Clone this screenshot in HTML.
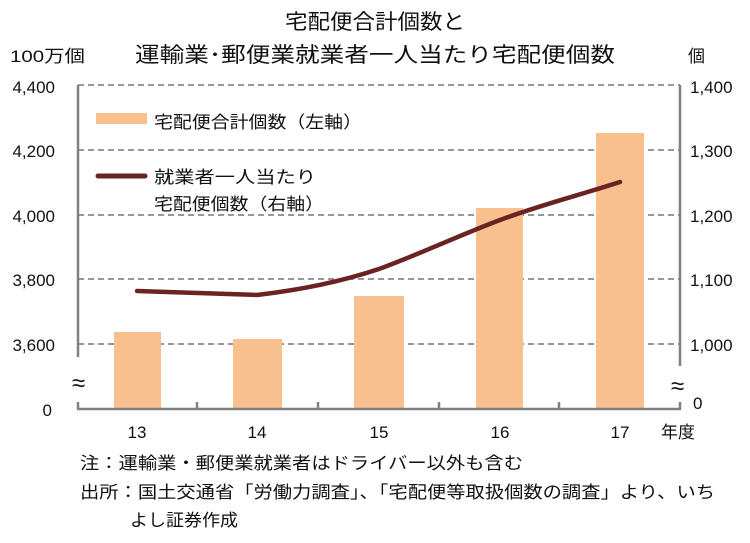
<!DOCTYPE html>
<html><head><meta charset="utf-8"><style>
body{margin:0;background:#fff;}
svg text{font-family:"Liberation Sans","Noto Sans CJK JP",sans-serif;fill:#111;}
</style></head><body>
<svg width="750" height="538" viewBox="0 0 750 538" xmlns="http://www.w3.org/2000/svg">
<text x="285" y="29" font-size="21" textLength="180" lengthAdjust="spacingAndGlyphs">宅配便合計個数と</text>
<text x="135" y="62" font-size="21" textLength="480" lengthAdjust="spacingAndGlyphs">運輸業･郵便業就業者一人当たり宅配便個数</text>
<text x="10" y="62" font-size="17" textLength="75" lengthAdjust="spacingAndGlyphs">100万個</text>
<text x="688" y="62" font-size="17">個</text>
<g stroke="#777" stroke-width="1.5" stroke-dasharray="6,4">
<line x1="78" y1="85" x2="680" y2="85"/>
<line x1="78" y1="150" x2="680" y2="150"/>
<line x1="78" y1="215" x2="680" y2="215"/>
<line x1="78" y1="279" x2="680" y2="279"/>
<line x1="78" y1="344" x2="680" y2="344"/>
</g>
<g fill="#f9c08f">
<rect x="114" y="332" width="47" height="77"/>
<rect x="233" y="339" width="49" height="70"/>
<rect x="354" y="296" width="50" height="113"/>
<rect x="476" y="208" width="47" height="201"/>
<rect x="596" y="133" width="48" height="276"/>
</g>
<g stroke="#808080" stroke-width="2.5" fill="none">
<line x1="78" y1="85" x2="78" y2="357"/>
<line x1="78" y1="402" x2="78" y2="409"/>
<line x1="680" y1="85" x2="680" y2="366"/>
<line x1="680" y1="402" x2="680" y2="409"/>
<line x1="77" y1="409" x2="681" y2="409"/>
<line x1="197" y1="402" x2="197" y2="409"/>
<line x1="318" y1="402" x2="318" y2="409"/>
<line x1="439" y1="402" x2="439" y2="409"/>
<line x1="559" y1="402" x2="559" y2="409"/>
</g>
<path d="M137,291 L257,295 C300,290 340,282 379,269 C420,254 460,235 500,220 C540,205 580,195 620,182" stroke="#6b2222" stroke-width="4.5" fill="none" stroke-linecap="round"/>
<g font-size="17" text-anchor="end">
<text x="55" y="93">4,400</text>
<text x="55" y="157">4,200</text>
<text x="55" y="222">4,000</text>
<text x="55" y="286">3,800</text>
<text x="55" y="351">3,600</text>
<text x="52" y="416">0</text>
</g>
<g font-size="17" text-anchor="start">
<text x="690" y="93">1,400</text>
<text x="690" y="157">1,300</text>
<text x="690" y="222">1,200</text>
<text x="690" y="286">1,100</text>
<text x="690" y="351">1,000</text>
<text x="693" y="409">0</text>
</g>
<text x="72" y="391" font-size="24">≈</text>
<text x="671" y="394" font-size="24">≈</text>
<g font-size="17" text-anchor="middle">
<text x="137" y="438">13</text>
<text x="257" y="438">14</text>
<text x="379" y="438">15</text>
<text x="500" y="438">16</text>
<text x="620" y="438">17</text>
</g>
<text x="661" y="438" font-size="17">年度</text>
<rect x="96" y="113" width="51" height="11" fill="#f9c08f"/>
<text x="154" y="128" font-size="17" textLength="208" lengthAdjust="spacingAndGlyphs">宅配便合計個数（左軸）</text>
<line x1="98" y1="176" x2="145" y2="176" stroke="#6b2222" stroke-width="5" stroke-linecap="round"/>
<text x="154" y="183" font-size="17" textLength="162" lengthAdjust="spacingAndGlyphs">就業者一人当たり</text>
<text x="154" y="210" font-size="17" textLength="170" lengthAdjust="spacingAndGlyphs">宅配便個数（右軸）</text>
<g font-size="17">
<text x="80" y="469" textLength="443" lengthAdjust="spacingAndGlyphs">注：運輸業・郵便業就業者はドライバー以外も含む</text>
<text x="80" y="498" textLength="635" lengthAdjust="spacingAndGlyphs">出所：国土交通省「労働力調査」、「宅配便等取扱個数の調査」より、いち</text>
<text x="130" y="526" textLength="108" lengthAdjust="spacingAndGlyphs">よし証券作成</text>
</g>
</svg>
</body></html>
